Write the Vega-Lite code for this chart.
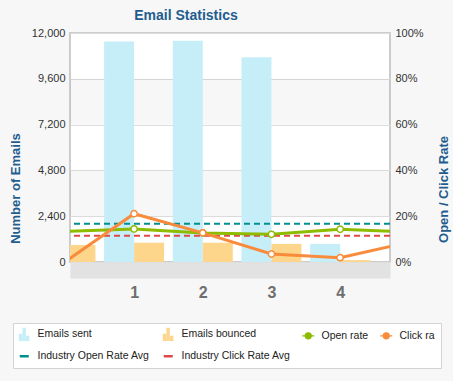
{
  "$schema": "https://vega.github.io/schema/vega-lite/v6.json",
  "autosize": {"type": "none"},
  "width": 320,
  "height": 229,
  "padding": {"left": 70, "top": 33, "right": 63, "bottom": 119},
  "background": "#f7f7f7",
  "title": {"text": "Email Statistics", "anchor": "middle", "frame": "group", "dx": -44, "fontSize": 14, "font": "Liberation Sans", "fontWeight": "bold", "color": "#1f5d8f", "offset": 4},
  "config": {
    "view": {"stroke": "#cccccc", "strokeWidth": 2, "fill": "white"},
    "font": "Liberation Sans"
  },
  "datasets": {
    "bars": [
      {"cat": 0, "series": "Emails bounced", "count": 890},
      {"cat": 1, "series": "Emails sent", "count": 11550},
      {"cat": 1, "series": "Emails bounced", "count": 1010},
      {"cat": 2, "series": "Emails sent", "count": 11600},
      {"cat": 2, "series": "Emails bounced", "count": 1010},
      {"cat": 3, "series": "Emails sent", "count": 10730},
      {"cat": 3, "series": "Emails bounced", "count": 950},
      {"cat": 4, "series": "Emails sent", "count": 950},
      {"cat": 4, "series": "Emails bounced", "count": 100}
    ],
    "rates": [
      {"cat": 0, "series": "Open rate", "rate": 0.134},
      {"cat": 1, "series": "Open rate", "rate": 0.144},
      {"cat": 2, "series": "Open rate", "rate": 0.127},
      {"cat": 3, "series": "Open rate", "rate": 0.121},
      {"cat": 4, "series": "Open rate", "rate": 0.143},
      {"cat": 5, "series": "Open rate", "rate": 0.131},
      {"cat": 0, "series": "Click rate", "rate": 0.002},
      {"cat": 1, "series": "Click rate", "rate": 0.211},
      {"cat": 2, "series": "Click rate", "rate": 0.127},
      {"cat": 3, "series": "Click rate", "rate": 0.035},
      {"cat": 4, "series": "Click rate", "rate": 0.019},
      {"cat": 5, "series": "Click rate", "rate": 0.086}
    ],
    "avgs": [
      {"series": "Industry Open Rate Avg", "rate": 0.167},
      {"series": "Industry Click Rate Avg", "rate": 0.115}
    ],
    "bands": [
      {"lo": 2400, "hi": 4800},
      {"lo": 7200, "hi": 9600}
    ]
  },
  "layer": [
    {
      "layer": [
        {
          "data": {"name": "bands"},
          "mark": {"type": "rect", "fill": "#000000", "opacity": 0.03},
          "encoding": {
            "y": {"field": "lo", "type": "quantitative", "title": "Number of Emails",
              "scale": {"domain": [0, 12000], "nice": false, "zero": true},
              "axis": {"orient": "left", "values": [0, 2400, 4800, 7200, 9600, 12000], "format": ",.0f", "grid": true, "gridColor": "#dddddd", "domain": false, "ticks": false, "labelPadding": 5, "labelFontSize": 11, "labelColor": "#333333", "titleFontSize": 13, "titleColor": "#1f5d8f", "titleFontWeight": "bold", "titleX": -55, "titleY": 155, "titleAngle": 270, "titleBaseline": "middle", "titleAlign": "center"}},
            "y2": {"field": "hi"}
          }
        },
        {
          "data": {"name": "bars"},
          "transform": [{"filter": "datum.series === 'Emails sent'"}],
          "mark": {"type": "bar", "width": 30, "xOffset": -15, "clip": true},
          "encoding": {
            "x": {"field": "cat", "type": "quantitative",
              "scale": {"domain": [0.1396, 4.653], "nice": false, "zero": false},
              "axis": {"orient": "bottom", "values": [1, 2, 3, 4], "format": "d", "grid": false, "ticks": false, "domain": true, "domainColor": "#e2e2e2", "domainWidth": 16, "offset": 8, "labelFontSize": 16, "labelFontWeight": "bold", "labelColor": "#6e6e6e", "labelPadding": 14, "title": null}},
            "y": {"field": "count", "type": "quantitative", "title": "Number of Emails"},
            "color": {"field": "series", "type": "nominal",
              "scale": {"domain": ["Emails sent", "Emails bounced", "Open rate", "Click rate", "Industry Open Rate Avg", "Industry Click Rate Avg"],
                        "range": ["#c6eef8", "#fdd68c", "#8cbb00", "#f98b3c", "#008e8e", "#e04848"]},
              "legend": {
                "orient": "none", "legendX": -57, "legendY": 290, "direction": "horizontal", "columns": 4, "title": null,
                "padding": 6, "labelFont": "Liberation Sans", "labelFontSize": 10.5, "labelColor": "#222222",
                "symbolSize": 144, "labelOffset": 8, "columnPadding": 8, "rowPadding": 8,
                "fillColor": "white", "strokeColor": "#d4d4d4",
                "labelExpr": "datum.label === 'Click rate' ? 'Click ra' : datum.label",
                "encode": {
                  "symbols": {"update": {
                    "shape": {"signal": "datum.value === 'Emails sent' || datum.value === 'Emails bounced' ? 'M-0.8,1V0H-0.45V1Z M-0.2,1V-1H0.15V1Z M0.4,1V0.35H0.75V1Z' : datum.value === 'Open rate' || datum.value === 'Click rate' ? 'M-1,0H-0.5M0.5,0H1M-0.5,0A0.5,0.5,0,1,0,0.5,0A0.5,0.5,0,1,0,-0.5,0' : 'M-0.75,0H0.75'"},
                    "fill": {"signal": "datum.value === 'Emails sent' ? '#c6eef8' : datum.value === 'Emails bounced' ? '#fdd68c' : '#ffffff'"},
                    "stroke": {"signal": "datum.value === 'Emails sent' ? '#8fd0e6' : datum.value === 'Emails bounced' ? '#e8b45a' : datum.value === 'Open rate' ? '#8cbb00' : datum.value === 'Click rate' ? '#f98b3c' : datum.value === 'Industry Open Rate Avg' ? '#008e8e' : '#e04848'"},
                    "strokeWidth": {"signal": "datum.value === 'Industry Open Rate Avg' || datum.value === 'Industry Click Rate Avg' ? 2.5 : 1.3"}
                  }}
                }
              }}
          }
        },
        {
          "data": {"name": "bars"},
          "transform": [{"filter": "datum.series === 'Emails bounced'"}],
          "mark": {"type": "bar", "width": 30, "xOffset": 15, "clip": true},
          "encoding": {
            "x": {"field": "cat", "type": "quantitative"},
            "y": {"field": "count", "type": "quantitative", "title": "Number of Emails"},
            "color": {"field": "series", "type": "nominal"}
          }
        }
      ]
    },
    {
      "layer": [
        {
          "data": {"name": "avgs"},
          "mark": {"type": "rule", "strokeDash": [6, 4], "strokeWidth": 2},
          "encoding": {
            "y": {"field": "rate", "type": "quantitative", "title": "Open / Click Rate",
              "scale": {"domain": [0, 1], "nice": false},
              "axis": {"orient": "right", "values": [0, 0.2, 0.4, 0.6, 0.8, 1], "format": ".0%", "grid": false, "domain": false, "ticks": false, "labelPadding": 5, "labelFontSize": 11, "labelColor": "#333333", "titleFontSize": 13, "titleColor": "#1f5d8f", "titleFontWeight": "bold", "titleX": 53, "titleY": 156, "titleAngle": 270, "titleBaseline": "middle", "titleAlign": "center"}},
            "color": {"field": "series", "type": "nominal"}
          }
        },
        {
          "data": {"name": "rates"},
          "mark": {"type": "line", "strokeWidth": 3, "clip": true},
          "encoding": {
            "x": {"field": "cat", "type": "quantitative"},
            "y": {"field": "rate", "type": "quantitative", "title": "Open / Click Rate"},
            "color": {"field": "series", "type": "nominal"}
          }
        },
        {
          "data": {"name": "rates"},
          "mark": {"type": "point", "filled": false, "fill": "white", "size": 40, "strokeWidth": 1.5, "opacity": 1, "clip": true},
          "encoding": {
            "x": {"field": "cat", "type": "quantitative"},
            "y": {"field": "rate", "type": "quantitative", "title": "Open / Click Rate"},
            "color": {"field": "series", "type": "nominal"}
          }
        }
      ]
    }
  ],
  "resolve": {"scale": {"y": "independent"}}
}
